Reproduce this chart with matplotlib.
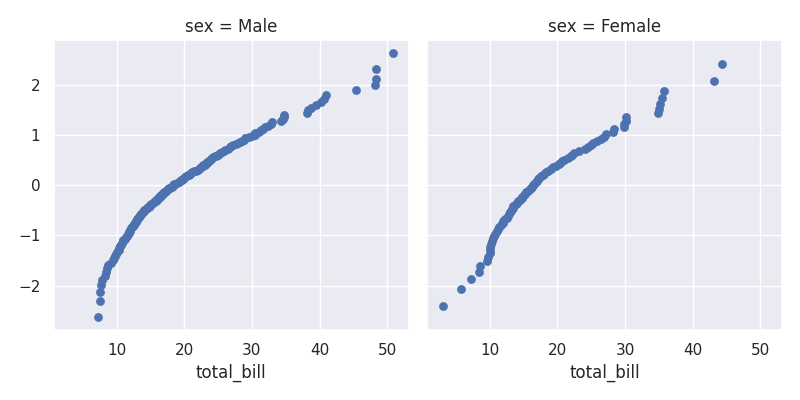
import matplotlib
matplotlib.use("Agg")
import matplotlib.pyplot as plt
import seaborn as sns
import numpy as np
from statistics import NormalDist

male_bill = [7.25,7.5,7.5,7.7,
 7.9,8.3,8.4,8.6,8.8,9.2,
 9.4,9.6,9.7,9.9,10.1,10.3,10.3,10.5,10.6,10.8,11.0,11.0,11.2,11.4,11.6,
 11.7,11.8,11.9,12.0,12.0,12.2,12.3,12.4,12.5,12.6,12.7,12.8,12.9,13.0,13.0,13.1,13.3,13.4,13.5,13.6,13.8,13.9,14.0,
 14.1,14.3,14.5,14.7,14.8,15.0,15.0,15.1,15.4,15.5,15.7,15.8,16.0,16.0,16.2,16.3,16.4,16.5,16.6,16.8,16.9,17.0,17.1,17.3,17.5,17.6,17.8,17.9,18.2,18.3,
 18.4,18.5,18.7,19.0,19.2,19.4,19.5,19.6,19.8,20.0,20.1,20.3,20.5,20.7,20.9,21.0,21.2,21.5,21.7,22.0,22.2,22.4,22.5,22.7,22.8,23.0,23.1,23.3,23.4,23.6,
 23.8,24.0,24.1,24.3,24.5,24.7,25.0,25.2,25.3,25.6,25.9,26.0,26.4,26.7,26.9,27.2,27.6,28.0,28.2,28.5,28.9,29.0,29.5,30.0,
 30.4,30.5,31.0,31.3,31.7,32.0,32.4,32.8,32.9,34.3,34.6,34.7,34.8,38.1,
 38.3,38.7,39.4,40.2,40.6,41.0,45.4,
 48.2,48.3,48.3,50.8]

female_bill = [3.07,5.75,
 7.25,8.35,8.5,9.6,
 9.8,10.0,10.1,10.1,10.2,10.3,10.4,10.6,
 10.8,11.0,11.2,11.4,11.6,11.9,12.0,12.3,12.5,12.7,12.9,13.0,13.1,
 13.3,13.4,13.5,13.8,14.0,14.2,14.5,14.7,14.8,15.0,15.2,15.4,15.7,15.9,16.1,16.3,
 16.4,16.5,16.8,17.0,17.1,17.3,17.5,17.8,18.0,18.3,18.6,19.0,19.4,19.8,20.2,20.3,20.7,
 21.0,21.5,22.0,22.2,22.5,23.2,24.0,24.5,25.0,25.3,25.9,26.4,26.9,
 27.1,28.2,28.4,29.8,29.9,30.1,30.2,34.8,
 35.0,35.2,35.5,35.8,
 43.1,44.3]

groups = ["Male", "Female"]
data = {"Male": male_bill, "Female": female_bill}

def theoretical_quantiles(n):
    m = np.array([(i - 0.3175) / (n + 0.365) for i in range(1, n + 1)])
    m[-1] = 0.5 ** (1.0 / n)
    m[0] = 1 - m[-1]
    nd = NormalDist()
    return np.array([nd.inv_cdf(p) for p in m])

sns.set_theme(style="darkgrid")
fig, axes = plt.subplots(1, 2, figsize=(8, 4), dpi=100, sharex=True, sharey=True)
for ax, g in zip(axes, groups):
    x = np.sort(np.array(data[g]))
    y = theoretical_quantiles(len(x))
    ax.scatter(x, y, color="#4c72b0", s=40, linewidths=0)
    ax.set_title(f"sex = {g}")
    ax.set_xlabel("total_bill")
axes[0].set_xticks([10, 20, 30, 40, 50])
axes[0].set_yticks([-2, -1, 0, 1, 2])
fig.tight_layout()
fig.savefig("out.png")
